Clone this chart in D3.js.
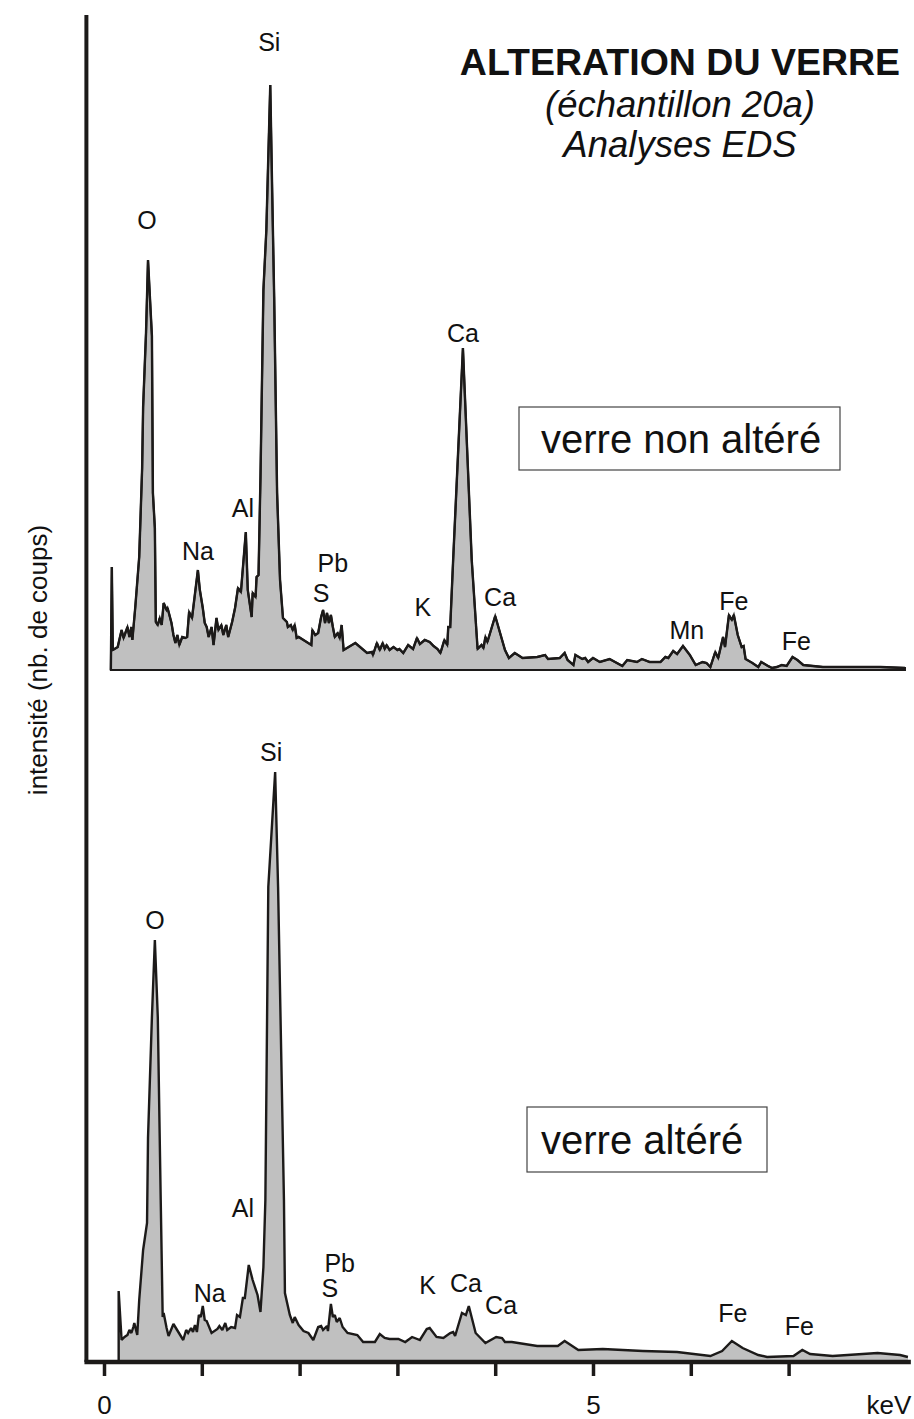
<!DOCTYPE html>
<html>
<head>
<meta charset="utf-8">
<script src="https://cdn.jsdelivr.net/npm/d3@7"></script>
<style>
  body { margin: 0; background: #fff; }
  svg { display: block; font-family: "Liberation Sans", Arial, sans-serif; }
</style>
</head>
<body>
<svg id="chart" width="914" height="1419"></svg>
<script>
// energy axis
var energyTicks = [0, 1, 2, 3, 4, 5, 6, 7];
var tickLabels = { 0: "0", 5: "5" };

// verre non altere (keV, counts)
var topKeV = [0.07, 0.08, 0.09, 0.14, 0.18, 0.20, 0.24, 0.26, 0.28, 0.29, 0.32, 0.36, 0.39, 0.40, 0.43, 0.45, 0.49, 0.50, 0.52, 0.53,
  0.55, 0.57, 0.59, 0.61, 0.64, 0.65, 0.69, 0.71, 0.73, 0.75, 0.77, 0.80, 0.83, 0.85, 0.87, 0.90, 0.96, 0.98, 1.01, 1.03,
  1.05, 1.07, 1.10, 1.12, 1.15, 1.17, 1.20, 1.22, 1.25, 1.27, 1.31, 1.34, 1.37, 1.40, 1.45, 1.47, 1.51, 1.52, 1.55, 1.56,
  1.58, 1.60, 1.63, 1.66, 1.67, 1.70, 1.72, 1.74, 1.77, 1.80, 1.83, 1.87, 1.88, 1.91, 1.93, 1.95, 1.97, 1.99, 2.12, 2.13,
  2.16, 2.19, 2.22, 2.24, 2.26, 2.28, 2.30, 2.32, 2.34, 2.36, 2.39, 2.41, 2.43, 2.45, 2.57, 2.69, 2.74, 2.75, 2.79, 2.82,
  2.85, 2.87, 2.89, 2.92, 2.96, 3.00, 3.02, 3.06, 3.11, 3.16, 3.20, 3.23, 3.28, 3.33, 3.37, 3.41, 3.44, 3.48, 3.51, 3.52,
  3.54, 3.57, 3.67, 3.76, 3.82, 3.86, 3.88, 3.90, 3.92, 4.00, 4.05, 4.10, 4.14, 4.20, 4.28, 4.43, 4.51, 4.54, 4.66, 4.71,
  4.74, 4.80, 4.82, 4.89, 4.92, 4.95, 5.00, 5.07, 5.17, 5.30, 5.35, 5.45, 5.50, 5.58, 5.69, 5.74, 5.77, 5.82, 5.86, 5.92,
  5.99, 6.05, 6.12, 6.16, 6.20, 6.25, 6.28, 6.33, 6.35, 6.39, 6.42, 6.44, 6.48, 6.52, 6.54, 6.56, 6.63, 6.69, 6.72, 6.79,
  6.83, 6.88, 6.93, 6.98, 7.04, 7.09, 7.15, 7.35, 7.70, 7.94, 8.19];
var topCounts = [0, 103, 20, 23, 40, 32, 43, 33, 43, 30, 63, 113, 202, 263, 338, 410, 334, 177, 142, 48,
  45, 52, 45, 67, 60, 62, 47, 35, 27, 35, 25, 33, 32, 33, 58, 52, 100, 80, 62, 47,
  43, 33, 43, 25, 52, 40, 45, 35, 45, 33, 48, 62, 82, 78, 138, 80, 53, 77, 73, 93,
  95, 193, 380, 440, 477, 585, 477, 373, 177, 90, 52, 48, 43, 45, 40, 45, 32, 33, 25, 40,
  35, 37, 53, 60, 47, 57, 47, 55, 43, 33, 37, 32, 45, 20, 27, 17, 18, 15, 27, 20,
  27, 21, 25, 20, 23, 20, 21, 17, 25, 21, 32, 26, 30, 28, 24, 21, 17, 30, 25, 43,
  43, 110, 322, 110, 21, 25, 22, 33, 28, 54, 37, 20, 12, 17, 12, 13, 15, 11, 12, 17,
  10, 5, 15, 11, 12, 8, 12, 8, 11, 4, 10, 8, 11, 8, 8, 13, 12, 19, 16, 24,
  15, 5, 8, 7, 3, 18, 12, 33, 23, 55, 50, 55, 35, 23, 24, 11, 7, 3, 8, 4,
  2, 3, 5, 4, 13, 10, 5, 3, 3, 3, 2];

// verre altere (keV, counts)
var botKeV = [0.15, 0.15, 0.18, 0.21, 0.24, 0.26, 0.28, 0.30, 0.31, 0.34, 0.36, 0.40, 0.44, 0.45, 0.49, 0.52, 0.55, 0.58, 0.60, 0.61,
  0.64, 0.66, 0.71, 0.76, 0.81, 0.84, 0.86, 0.89, 0.91, 0.93, 0.95, 0.97, 0.99, 1.01, 1.03, 1.05, 1.10, 1.16, 1.18, 1.21,
  1.24, 1.26, 1.30, 1.34, 1.36, 1.39, 1.42, 1.44, 1.48, 1.52, 1.57, 1.60, 1.63, 1.65, 1.68, 1.75, 1.78, 1.84, 1.85, 1.90,
  1.93, 1.95, 1.99, 2.04, 2.09, 2.14, 2.19, 2.22, 2.24, 2.28, 2.29, 2.32, 2.34, 2.36, 2.38, 2.41, 2.44, 2.49, 2.59, 2.65,
  2.71, 2.77, 2.82, 2.87, 2.92, 3.01, 3.08, 3.15, 3.23, 3.30, 3.33, 3.40, 3.47, 3.54, 3.57, 3.59, 3.66, 3.70, 3.73, 3.80,
  3.90, 4.01, 4.07, 4.10, 4.17, 4.43, 4.64, 4.71, 4.85, 5.10, 5.51, 5.86, 6.20, 6.32, 6.42, 6.53, 6.69, 6.78, 7.05, 7.14,
  7.22, 7.45, 7.91, 8.14, 8.22];
var botCounts = [0, 69, 20, 23, 25, 30, 27, 33, 37, 25, 60, 110, 137, 222, 343, 420, 343, 160, 43, 47,
  32, 24, 36, 28, 20, 30, 27, 32, 28, 35, 28, 45, 43, 54, 40, 39, 27, 31, 34, 30,
  37, 30, 33, 32, 45, 43, 62, 62, 95, 80, 65, 48, 93, 160, 473, 588, 473, 160, 67, 45,
  37, 43, 35, 29, 27, 20, 33, 34, 30, 34, 29, 56, 43, 45, 38, 42, 33, 27, 25, 18,
  18, 18, 26, 22, 21, 21, 18, 23, 20, 31, 32, 23, 22, 27, 28, 24, 47, 45, 54, 27,
  17, 23, 22, 18, 18, 14, 14, 19, 10, 11, 9, 8, 4, 9, 19, 12, 5, 3, 4, 10,
  6, 4, 7, 5, 3];

// peak labels: element, keV, counts of label baseline
var topLabelEl = ["O", "Si", "Ca", "Al", "Na", "Pb", "S", "K", "Ca", "Mn", "Fe", "Fe"];
var topLabelKeV = [0.44, 1.69, 3.67, 1.42, 0.96, 2.34, 2.22, 3.26, 4.05, 5.96, 6.44, 7.08];
var topLabelCounts = [441, 619, 328, 153, 110, 98, 68, 54, 64, 31, 60, 20];
var botLabelEl = ["Si", "O", "Al", "Na", "Pb", "S", "K", "Ca", "Ca", "Fe", "Fe"];
var botLabelKeV = [1.71, 0.52, 1.42, 1.08, 2.41, 2.31, 3.31, 3.70, 4.06, 6.43, 7.11];
var botLabelCounts = [599, 431, 143, 58, 88, 63, 66, 68, 46, 38, 25];

var svg = d3.select("#chart");
var ink = "#1c1a19", fill = "#c0c0c0";

var x = d3.scaleLinear().domain([0, 8]).range([104, 886.4]);
var yTop = d3.scaleLinear().domain([0, 600]).range([670, 70]);
var yBot = d3.scaleLinear().domain([0, 600]).range([1360, 760]);

function zip(ks, cs) {
    return ks.map(function(k, i) { return { k: k, c: cs[i] }; });
}

function drawSpectrum(data, y, closeStroke) {
    var g = svg.append("g");
    var area = d3.area().x(function(d) { return x(d.k); })
        .y0(y(0)).y1(function(d) { return y(d.c); });
    var line = d3.line().x(function(d) { return x(d.k); })
        .y(function(d) { return y(d.c); });
    g.append("path").attr("d", area(data))
        .attr("fill", fill)
        .attr("stroke", closeStroke ? ink : "none")
        .attr("stroke-width", 2);
    g.append("path").attr("d", line(data))
        .attr("fill", "none")
        .attr("stroke", ink)
        .attr("stroke-width", 2.4)
        .attr("stroke-linejoin", "miter")
        .attr("stroke-miterlimit", 2);
    return g;
}

function drawLabels(els, ks, cs, y) {
    svg.append("g").selectAll("text").data(els).enter().append("text")
        .attr("x", function(d, i) { return x(ks[i]); })
        .attr("y", function(d, i) { return y(cs[i]); })
        .attr("text-anchor", "middle")
        .attr("font-size", 25)
        .attr("fill", "#111")
        .text(function(d) { return d; });
}

drawSpectrum(zip(topKeV, topCounts), yTop, true);
drawSpectrum(zip(botKeV, botCounts), yBot, false);
drawLabels(topLabelEl, topLabelKeV, topLabelCounts, yTop);
drawLabels(botLabelEl, botLabelKeV, botLabelCounts, yBot);

// axes
svg.append("line")
    .attr("x1", x(-0.18)).attr("x2", x(-0.18))
    .attr("y1", 15).attr("y2", yBot(0) + 2)
    .attr("stroke", ink).attr("stroke-width", 4);

var xAxis = d3.axisBottom(x)
    .tickValues(energyTicks)
    .tickSize(14)
    .tickFormat(function(d) { return tickLabels[d] || ""; });

var gx = svg.append("g")
    .attr("transform", "translate(0," + (yBot(0) + 2) + ")")
    .call(xAxis);
gx.select(".domain").remove();
gx.selectAll(".tick line").attr("stroke", ink).attr("stroke-width", 3.5);
gx.selectAll(".tick text")
    .attr("y", 34).attr("dy", "0.71em")
    .attr("font-size", 26).attr("fill", "#111")
    .attr("font-family", "Liberation Sans, Arial, sans-serif");

svg.append("line")
    .attr("x1", x(-0.2)).attr("x2", x(8.25))
    .attr("y1", yBot(0) + 2).attr("y2", yBot(0) + 2)
    .attr("stroke", ink).attr("stroke-width", 4.5);

svg.append("text")
    .attr("x", 889).attr("y", 1414)
    .attr("text-anchor", "middle")
    .attr("font-size", 26).attr("fill", "#111")
    .text("keV");

svg.append("text")
    .attr("transform", "translate(47,660) rotate(-90)")
    .attr("text-anchor", "middle")
    .attr("font-size", 26).attr("fill", "#111")
    .text("intensité (nb. de coups)");

// title
var title = svg.append("g").attr("text-anchor", "middle").attr("fill", "#111");
title.append("text").attr("x", 680).attr("y", 75)
    .attr("font-size", 37.5).attr("font-weight", "bold")
    .text("ALTERATION DU VERRE");
title.append("text").attr("x", 680).attr("y", 117)
    .attr("font-size", 36.5).attr("font-style", "italic")
    .text("(échantillon 20a)");
title.append("text").attr("x", 680).attr("y", 157)
    .attr("font-size", 36.5).attr("font-style", "italic")
    .text("Analyses EDS");

// sample boxes
function sampleBox(bx, by, bw, bh, label) {
    var g = svg.append("g");
    g.append("rect").attr("x", bx).attr("y", by).attr("width", bw).attr("height", bh)
        .attr("fill", "#fff").attr("stroke", "#444").attr("stroke-width", 1.2);
    g.append("text").attr("x", 541).attr("y", by + bh / 2 + 14)
        .attr("font-size", 40).attr("fill", "#111")
        .text(label);
}
sampleBox(519, 407, 321, 63, "verre non altéré");
sampleBox(527, 1107, 240, 65, "verre altéré");
</script>
</body>
</html>
